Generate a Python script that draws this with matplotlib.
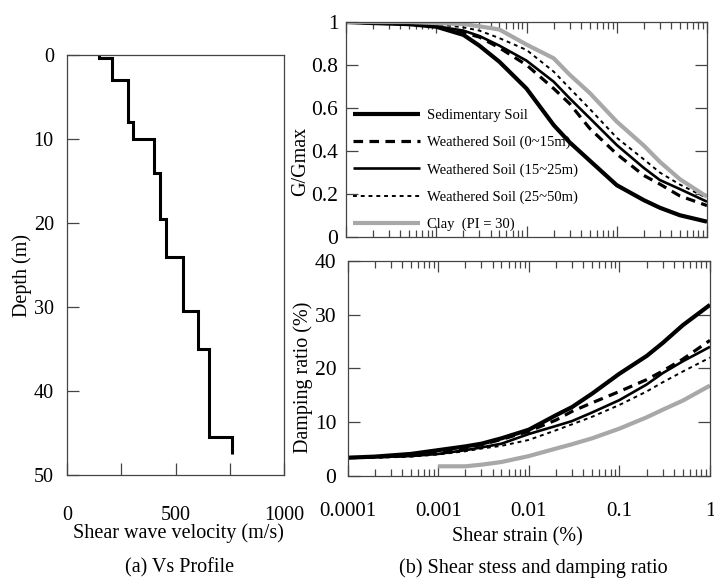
import numpy as np
import matplotlib
matplotlib.use("Agg")
import matplotlib.pyplot as plt
from matplotlib.ticker import FixedLocator, LogLocator, NullFormatter, FixedFormatter

plt.rcParams['font.family'] = ['Liberation Serif', 'DejaVu Serif']
plt.rcParams['mathtext.fontset'] = 'stix'

# ---------------- data ----------------
# (a) Vs profile
depth_edges = [0, 0.3, 3, 8, 10, 14, 19.5, 24, 30.5, 35, 45.5, 47.5]
vs_values = [147, 206, 280, 304, 400, 430, 458, 533, 604, 653, 760]

# (b) modulus reduction and damping curves
strain = [0.0001, 0.0002, 0.0005, 0.001, 0.002, 0.003, 0.005, 0.01,
          0.02, 0.03, 0.05, 0.1, 0.2, 0.3, 0.5, 1.0]

g_sedimentary = [1.0, 0.995, 0.99, 0.978, 0.94, 0.89, 0.815, 0.69,
                 0.52, 0.44, 0.355, 0.24, 0.17, 0.135, 0.10, 0.07]
g_weathered_0_15 = [1.0, 0.995, 0.99, 0.98, 0.95, 0.93, 0.88, 0.80,
                    0.69, 0.62, 0.505, 0.385, 0.285, 0.245, 0.19, 0.145]
g_weathered_15_25 = [1.0, 0.995, 0.99, 0.98, 0.96, 0.935, 0.89, 0.82,
                     0.722, 0.645, 0.553, 0.427, 0.32, 0.264, 0.222, 0.163]
g_weathered_25_50 = [1.0, 0.998, 0.995, 0.99, 0.975, 0.96, 0.925, 0.87,
                     0.769, 0.692, 0.596, 0.461, 0.36, 0.299, 0.243, 0.18]
g_clay = [1.0, 1.0, 1.0, 0.995, 0.99, 0.98, 0.965, 0.895,
          0.831, 0.755, 0.67, 0.536, 0.424, 0.349, 0.268, 0.186]

d_sedimentary = [3.4, 3.6, 4.1, 4.8, 5.5, 6.0, 7.0, 8.6,
                 11.3, 12.8, 15.3, 19.0, 22.3, 24.7, 28.0, 31.8]
d_weathered_0_15 = [3.4, 3.5, 3.8, 4.4, 5.2, 5.8, 6.8, 8.3,
                    10.4, 12.0, 13.6, 15.7, 17.9, 19.5, 21.7, 25.2]
d_weathered_15_25 = [3.4, 3.5, 3.7, 4.1, 4.8, 5.3, 6.0, 7.8,
                     9.3, 10.2, 11.8, 14.1, 17.0, 19.1, 21.3, 24.0]
d_weathered_25_50 = [3.4, 3.4, 3.6, 4.0, 4.6, 5.1, 5.6, 6.7,
                     8.5, 9.6, 11.0, 13.2, 15.7, 17.4, 19.4, 22.0]
strain_clay_d = [0.001, 0.002, 0.003, 0.005, 0.01, 0.02, 0.03, 0.05,
                 0.1, 0.2, 0.3, 0.5, 1.0]
d_clay = [1.8, 1.8, 2.1, 2.6, 3.7, 5.1, 5.9, 7.0,
          8.8, 10.9, 12.3, 14.0, 16.8]

labels = ['Sedimentary Soil', 'Weathered Soil (0~15m)', 'Weathered Soil (15~25m)',
          'Weathered Soil (25~50m)', 'Clay  (PI = 30)']

vs_xticks = [0, 250, 500, 750, 1000]
vs_xticklabels = ['0', '', '500', '', '1000']
depth_ticks = [0, 10, 20, 30, 40, 50]
strain_ticklabels = ['0.0001', '0.001', '0.01', '0.1', '1']

# ---------------- styles ----------------
spine_col = '#444444'
clay_col = '#a8a8a8'
styles = [
    dict(color='black', lw=3.0, ls='-'),
    dict(color='black', lw=2.3, ls=(0, (3.0, 2.0))),
    dict(color='black', lw=1.9, ls='-'),
    dict(color='black', lw=1.4, ls=(0, (2.0, 2.0))),
    dict(color=clay_col, lw=3.0, ls='-'),
]

W, H = 714, 581
fig = plt.figure(figsize=(W / 100, H / 100), dpi=100)


def box(x0, y0, x1, y1):
    return [x0 / W, 1 - y1 / H, (x1 - x0) / W, (y1 - y0) / H]


def style_spines(ax):
    for s in ax.spines.values():
        s.set_color(spine_col)
        s.set_linewidth(0.9)


# ---------------- (a) ----------------
ax1 = fig.add_axes(box(67, 55, 284, 475))
ax1.stairs(vs_values, depth_edges, orientation='horizontal', baseline=None,
           color='black', lw=2.2)
ax1.set_xlim(0, 1000)
ax1.set_ylim(50, 0)
ax1.xaxis.set_major_locator(FixedLocator(vs_xticks))
ax1.xaxis.set_major_formatter(FixedFormatter(vs_xticklabels))
ax1.yaxis.set_major_locator(FixedLocator(depth_ticks))
ax1.tick_params(axis='both', direction='in', length=8.5, width=0.9,
                color=spine_col, labelsize=14.5)
ax1.tick_params(axis='x', pad=22)
ax1.tick_params(axis='y', pad=9.5)
style_spines(ax1)
ax1.set_ylabel('Depth (m)', fontsize=14.5)
ax1.yaxis.set_label_coords(-0.16, 0.476)
ax1.set_xlabel('Shear wave velocity (m/s)', fontsize=14.5)
ax1.xaxis.set_label_coords(0.512, -0.115)

# ---------------- (b) top ----------------
ax2 = fig.add_axes(box(346, 22, 707, 236.7))
g_series = [g_sedimentary, g_weathered_0_15, g_weathered_15_25, g_weathered_25_50, g_clay]
handles = []
for vals, st, lab in zip(g_series, styles, labels):
    h, = ax2.plot(strain, vals, color=st['color'], lw=st['lw'], ls=st['ls'],
                  label=lab, solid_capstyle='butt', dash_capstyle='butt')
    handles.append(h)
ax2.set_xscale('log')
ax2.set_xlim(0.0001, 1)
ax2.set_ylim(0, 1)
ax2.set_yticks([0, 0.2, 0.4, 0.6, 0.8, 1.0])
ax2.set_yticklabels(['0', '0.2', '0.4', '0.6', '0.8', '1'])
ax2.xaxis.set_major_locator(LogLocator(base=10, numticks=10))
ax2.xaxis.set_minor_locator(LogLocator(base=10, subs=np.arange(2, 10), numticks=10))
ax2.xaxis.set_major_formatter(NullFormatter())
ax2.xaxis.set_minor_formatter(NullFormatter())
ax2.tick_params(axis='both', which='both', direction='in', top=True, right=True,
                color=spine_col, width=0.9)
ax2.tick_params(axis='y', which='major', length=8.5, labelsize=15.5, pad=5.5)
ax2.tick_params(axis='x', which='major', length=8)
ax2.tick_params(axis='x', which='minor', length=5)
style_spines(ax2)
ax2.set_ylabel('G/Gmax', fontsize=14.5)
ax2.yaxis.set_label_coords(-0.1, 0.35)
ax2.legend(handles=handles, loc='center left', bbox_to_anchor=(0.02, 0.31),
           frameon=False, fontsize=10.5, handlelength=4.6, handletextpad=0.45,
           labelspacing=0.95, borderaxespad=0, borderpad=0)

# ---------------- (b) bottom ----------------
ax3 = fig.add_axes(box(347.5, 260.7, 710, 476))
d_series = [d_sedimentary, d_weathered_0_15, d_weathered_15_25, d_weathered_25_50]
for vals, st in zip(d_series, styles[:4]):
    ax3.plot(strain, vals, color=st['color'], lw=st['lw'], ls=st['ls'],
             solid_capstyle='butt', dash_capstyle='butt')
ax3.plot(strain_clay_d, d_clay, color=styles[4]['color'], lw=styles[4]['lw'],
         ls='-', solid_capstyle='butt')
ax3.set_xscale('log')
ax3.set_xlim(0.0001, 1)
ax3.set_ylim(0, 40)
ax3.set_yticks([0, 10, 20, 30, 40])
ax3.xaxis.set_major_locator(FixedLocator([0.0001, 0.001, 0.01, 0.1, 1]))
ax3.xaxis.set_major_formatter(FixedFormatter(strain_ticklabels))
ax3.xaxis.set_minor_locator(LogLocator(base=10, subs=np.arange(2, 10), numticks=10))
ax3.xaxis.set_minor_formatter(NullFormatter())
ax3.tick_params(axis='both', which='both', direction='in', top=True, right=True,
                color=spine_col, width=0.9)
ax3.tick_params(axis='y', which='major', length=8.5, labelsize=15.5, pad=8)
ax3.tick_params(axis='x', which='major', length=8, labelsize=15, pad=19)
ax3.tick_params(axis='x', which='minor', length=5)
style_spines(ax3)
ax3.set_ylabel('Damping ratio (%)', fontsize=14.5)
ax3.yaxis.set_label_coords(-0.095, 0.46)
ax3.set_xlabel('Shear strain (%)', fontsize=14.5)
ax3.xaxis.set_label_coords(0.468, -0.24)

# ---------------- captions ----------------
fig.text(180 / W, 1 - 568 / H, '(a) Vs Profile', ha='center', va='center', fontsize=14.5)
fig.text(533 / W, 1 - 568 / H, '(b) Shear stess and damping ratio', ha='center',
         va='center', fontsize=14.5)

fig.savefig('out.png', dpi=100)
